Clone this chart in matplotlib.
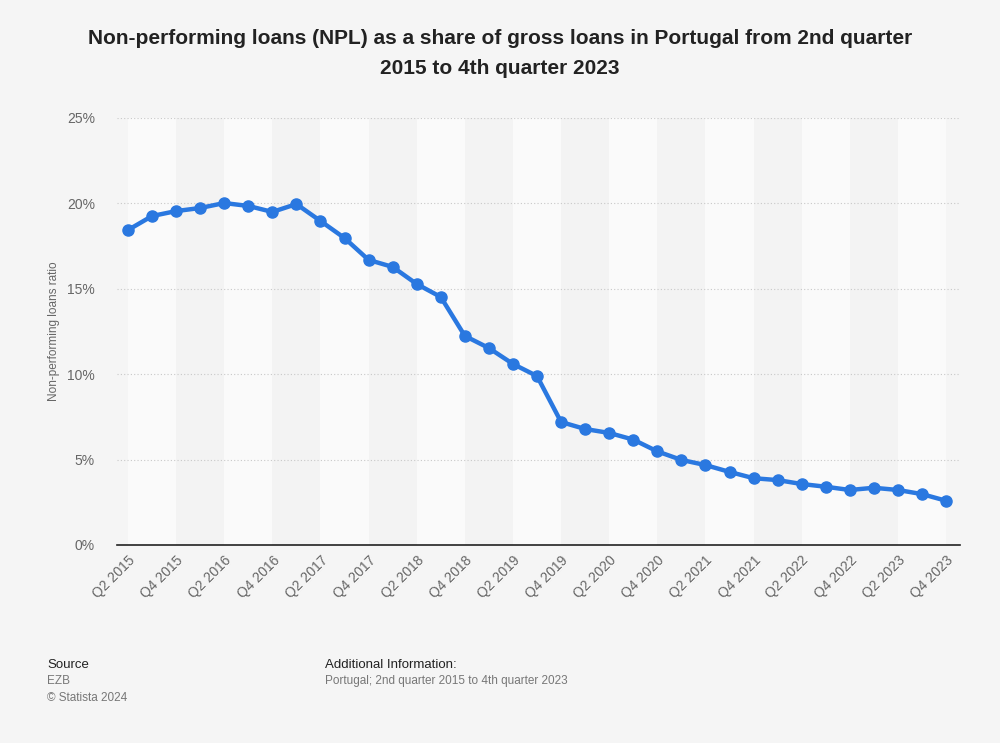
import matplotlib
matplotlib.use('Agg')
import matplotlib.pyplot as plt
import numpy as np

plt.rcParams['font.family'] = ['Liberation Sans', 'DejaVu Sans']

# quarters Q2 2015 .. Q4 2023
quarters = []
for year in range(2015, 2024):
    for q in range(1, 5):
        if year == 2015 and q == 1:
            continue
        quarters.append('Q%d %d' % (q, year))

npl_ratio = [18.44, 19.26, 19.55, 19.73, 20.02, 19.85, 19.5, 19.96, 18.97,
             17.97, 16.69, 16.28, 15.28, 14.52, 12.24, 11.53, 10.6, 9.89,
             7.2, 6.79, 6.56, 6.17, 5.48, 4.98, 4.68, 4.28, 3.91, 3.8, 3.57,
             3.41, 3.22, 3.35, 3.22, 2.98, 2.59]

y_ticks = [0, 5, 10, 15, 20, 25]

bg = '#f5f5f5'
line_color = '#2a78e0'

fig = plt.figure(figsize=(10, 7.43), dpi=100, facecolor=bg)
ax = fig.add_axes([0.117, 0.2665, 0.843, 0.5747])
ax.set_facecolor(bg)

x = np.arange(len(quarters))

# alternating column bands, two quarters wide
for i in range(0, len(quarters) - 1, 2):
    shade = '#fafafa' if (i // 2) % 2 == 0 else '#f3f3f3'
    ax.axvspan(i, i + 2, color=shade, zorder=0, lw=0)

for t in y_ticks[1:]:
    ax.axhline(t, color='#c8c8c8', lw=0.8, ls=(0, (1, 2)), zorder=1)

ax.plot(x, npl_ratio, color=line_color, lw=3.2, marker='o', ms=8,
        zorder=3, solid_capstyle='round')

ax.set_xlim(-0.457, 34.58)
ax.set_ylim(0, 25)
ax.set_yticks(y_ticks)
ax.set_yticklabels(['%d%%' % t for t in y_ticks])
ax.set_xticks(x[::2])
ax.set_xticklabels(quarters[::2], rotation=45, ha='right', rotation_mode='anchor')

for s in ['top', 'right', 'left']:
    ax.spines[s].set_visible(False)
ax.spines['bottom'].set_color('#222222')
ax.spines['bottom'].set_linewidth(1.2)
ax.tick_params(axis='both', length=0, labelsize=10, colors='#666666')
ax.tick_params(axis='y', pad=16)
ax.tick_params(axis='x', pad=6)

ax.set_ylabel('Non-performing loans ratio', fontsize=8.5, color='#666666', labelpad=5)

fig.text(0.5, 0.928, 'Non-performing loans (NPL) as a share of gross loans in Portugal from 2nd quarter\n2015 to 4th quarter 2023',
         ha='center', va='center', fontsize=15, fontweight='bold', color='#222222',
         linespacing=1.75)

fig.text(0.047, 0.105, 'Source', fontsize=9.5, color='#222222', va='center')
fig.text(0.047, 0.083, 'EZB', fontsize=8.5, color='#777777', va='center')
fig.text(0.047, 0.061, '\u00a9 Statista 2024', fontsize=8.5, color='#777777', va='center')
fig.text(0.325, 0.105, 'Additional Information:', fontsize=9.5, color='#222222', va='center')
fig.text(0.325, 0.083, 'Portugal; 2nd quarter 2015 to 4th quarter 2023', fontsize=8.5,
         color='#777777', va='center')

fig.savefig('out.png', dpi=100, facecolor=bg)
